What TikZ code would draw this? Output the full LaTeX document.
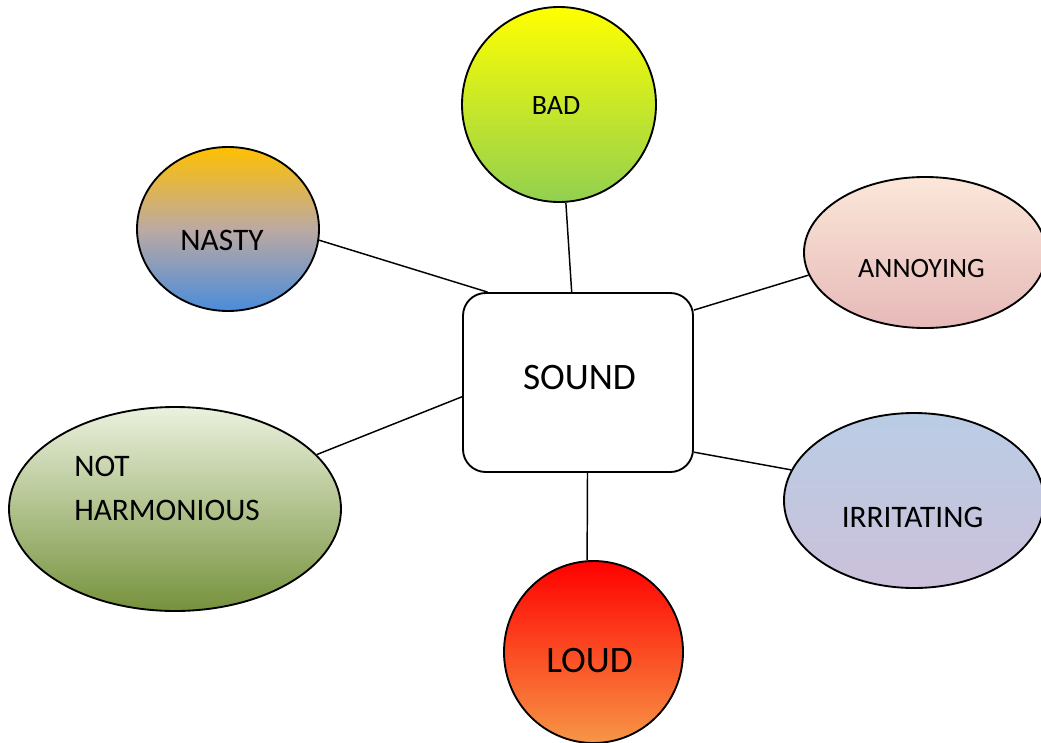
\documentclass[tikz,border=0pt]{standalone}
\usepackage{fontspec}
\setmainfont{Carlito}
\usetikzlibrary{shapes.geometric}
\definecolor{badtop}{HTML}{FFFF00}
\definecolor{badbot}{HTML}{92D050}
\definecolor{nastytop}{HTML}{FFC000}
\definecolor{nastymid}{HTML}{BCA9A2}
\definecolor{nastybot}{HTML}{4A8CDB}
\definecolor{anntop}{HTML}{FBE7D9}
\definecolor{annbot}{HTML}{E6B9B8}
\definecolor{nhtop}{HTML}{EBF1DE}
\definecolor{nhbot}{HTML}{76923C}
\definecolor{irrtop}{HTML}{B9CDE5}
\definecolor{irrbot}{HTML}{CCC0DA}
\definecolor{loudtop}{HTML}{FF0000}
\definecolor{loudbot}{HTML}{F79646}
\begin{document}
\begin{tikzpicture}[x=0.75pt,y=-0.75pt,
  bubble/.style={ellipse, draw=black, line width=1.4pt, inner sep=0pt},
  conn/.style={draw=black, line width=1.1pt},
  lbl/.style={inner sep=0pt, text=black}]
\clip (0,0) rectangle (1041,742);
\fill[white] (0,0) rectangle (1041,742);

% shapes
\node[bubble, top color=badtop, bottom color=badbot, minimum width=145.5pt, minimum height=146.25pt] (bad) at (559,104.5) {};
\node[bubble, top color=nastytop, bottom color=nastybot, middle color=nastymid, minimum width=136.5pt, minimum height=123pt] (nasty) at (228,229) {};
\node[bubble, top color=anntop, bottom color=annbot, minimum width=181.5pt, minimum height=113.25pt] (annoying) at (925,252.5) {};
\node[bubble, top color=nhtop, bottom color=nhbot, minimum width=249pt, minimum height=153pt] (notharm) at (175,509) {};
\node[bubble, top color=irrtop, bottom color=irrbot, minimum width=195pt, minimum height=131.25pt] (irritating) at (914,500.5) {};
\node[bubble, top color=loudtop, bottom color=loudbot, minimum width=134.25pt, minimum height=136.5pt] (loud) at (593.5,652) {};
\node[draw=black, fill=white, line width=1.4pt, rounded corners=17pt, inner sep=0pt, minimum width=172.5pt, minimum height=134.25pt] (sound) at (578,382.5) {};

% connectors
\draw[conn] (nasty.-7) -- (sound.135.5);
\draw[conn] (bad.-86.5) -- (sound.94.5);
\draw[conn] (annoying.-169.4) -- (sound.32.2);
\draw[conn] (notharm.21.1) -- (sound.-173.3);
\draw[conn] (irritating.166.6) -- (sound.-31.1);
\draw[conn] (loud.94) -- (sound.-84.3);

% labels
\node[lbl, font=\fontsize{28}{33}\selectfont] (t-sound) at (579.5,377.5) {SOUND};
\node[lbl, font=\fontsize{21}{25}\selectfont] (t-bad) at (556,106) {BAD};
\node[lbl, font=\fontsize{23.5}{28}\selectfont] (t-nasty) at (222,240) {NASTY};
\node[lbl, font=\fontsize{21}{25}\selectfont] (t-annoying) at (921.5,268.5) {ANNOYING};
\node[lbl, font=\fontsize{23.5}{33}\selectfont, align=left, anchor=north west] (t-notharm) at (74,456) {NOT\\HARMONIOUS};
\node[lbl, font=\fontsize{23.5}{28}\selectfont] (t-irritating) at (912.5,517.5) {IRRITATING};
\node[lbl, font=\fontsize{28}{33}\selectfont] (t-loud) at (589.5,661) {LOUD};
\end{tikzpicture}
\end{document}
